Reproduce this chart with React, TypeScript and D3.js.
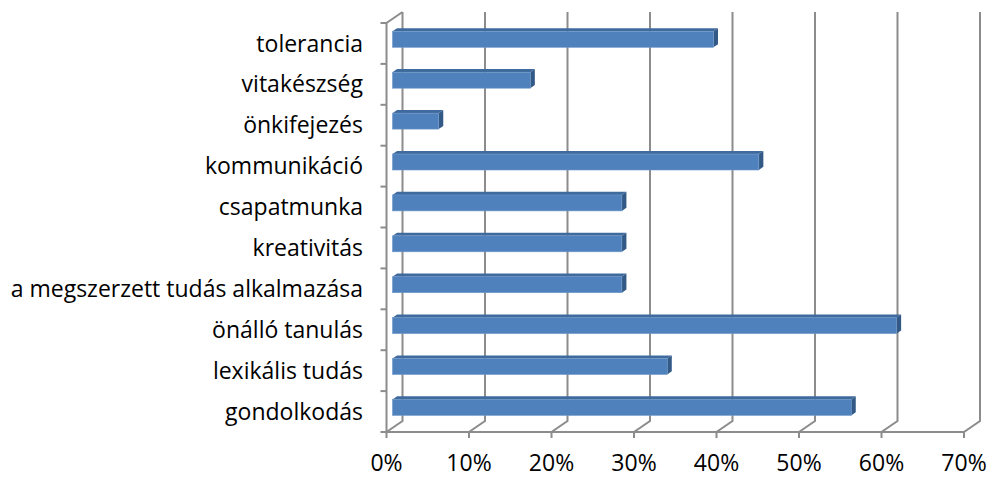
import * as d3 from 'd3';

// 18 respondents -> values are n/18 in percent
const categories = [
  'tolerancia',
  'vitakészség',
  'önkifejezés',
  'kommunikáció',
  'csapatmunka',
  'kreativitás',
  'a megszerzett tudás alkalmazása',
  'önálló tanulás',
  'lexikális tudás',
  'gondolkodás',
];
const values = [38.9, 16.7, 5.6, 44.4, 27.8, 27.8, 27.8, 61.1, 33.3, 55.6];
const xTicks = [0, 10, 20, 30, 40, 50, 60, 70];

const W = 990;
const H = 479;
// perspective offset from the front plane to the back wall
const depth = { dx: 16, dy: -11 };
const barFront = 0.375;
const barBack = 0.66;

const grid = '#8c8c8c';
const font = '"Open Sans", Lato, sans-serif';

const App = () => {
  const x = d3.scaleLinear().domain([0, 70]).range([386.5, 964]);
  const y = d3.scaleBand().domain(categories).range([23, 432]).paddingInner(0).paddingOuter(0);
  const barH = y.bandwidth() * 0.39;

  const bars = categories.map((c, i) => {
    const v = values[i];
    const cy = (y(c) as number) + y.bandwidth() / 2;
    const fx = (f: number) => depth.dx * f;
    const fy = (f: number) => depth.dy * f;
    const x0 = x(0) + fx(barFront);
    const x1 = x(v) + fx(barFront);
    const top = cy + fy(barFront) - barH / 2;
    const bot = top + barH;
    const ox = fx(barBack) - fx(barFront);
    const oy = fy(barBack) - fy(barFront);
    const topFace = [
      [x0, top],
      [x1, top],
      [x1 + ox, top + oy],
      [x0 + ox, top + oy],
    ];
    const sideFace = [
      [x1, top],
      [x1 + ox, top + oy],
      [x1 + ox, bot + oy],
      [x1, bot],
    ];
    const pts = (p: number[][]) => p.map((q) => q.join(',')).join(' ');
    return (
      <g key={c}>
        <polygon points={pts(topFace)} fill="#3f6a9e" />
        <polygon points={pts(sideFace)} fill="#335a87" />
        <rect x={x0} y={top} width={x1 - x0} height={barH} fill="#4f81bd" stroke="#6f98c9" strokeWidth={0.6} />
      </g>
    );
  });

  const floorY = 432;
  const topY = 23;

  return (
    <svg
      width={W}
      height={H}
      style={{ position: 'absolute', left: 0, top: 0, background: '#fff' }}
    >
      {/* back wall gridlines with the floor diagonal and tick */}
      {xTicks.map((t) => (
        <polyline
          key={t}
          points={`${x(t) + depth.dx},${topY + depth.dy} ${x(t) + depth.dx},${floorY + depth.dy} ${x(t)},${floorY} ${x(t)},${floorY + 6}`}
          fill="none"
          stroke={grid}
          strokeWidth={2}
        />
      ))}
      {/* left wall */}
      <polyline
        points={`${x(0) + depth.dx},${topY + depth.dy} ${x(0)},${topY} ${x(0)},${floorY} ${x(70)},${floorY}`}
        fill="none"
        stroke={grid}
        strokeWidth={2}
      />
      {categories.map((c) => (
        <line
          key={c}
          x1={x(0) - 6}
          x2={x(0)}
          y1={y(c) as number}
          y2={y(c) as number}
          stroke={grid}
          strokeWidth={2}
        />
      ))}
      <line x1={x(0) - 6} x2={x(0)} y1={floorY} y2={floorY} stroke={grid} strokeWidth={2} />
      {bars}
      {categories.map((c) => (
        <text
          key={c}
          x={363}
          y={(y(c) as number) + y.bandwidth() / 2}
          dy="0.35em"
          textAnchor="end"
          fontFamily={font}
          fontSize={23}
          fill="#000"
        >
          {c}
        </text>
      ))}
      {xTicks.map((t) => (
        <text
          key={t}
          x={x(t)}
          y={463}
          dy="0.35em"
          textAnchor="middle"
          fontFamily={font}
          fontSize={23}
          fill="#000"
        >
          {`${t}%`}
        </text>
      ))}
    </svg>
  );
};

export default App;
